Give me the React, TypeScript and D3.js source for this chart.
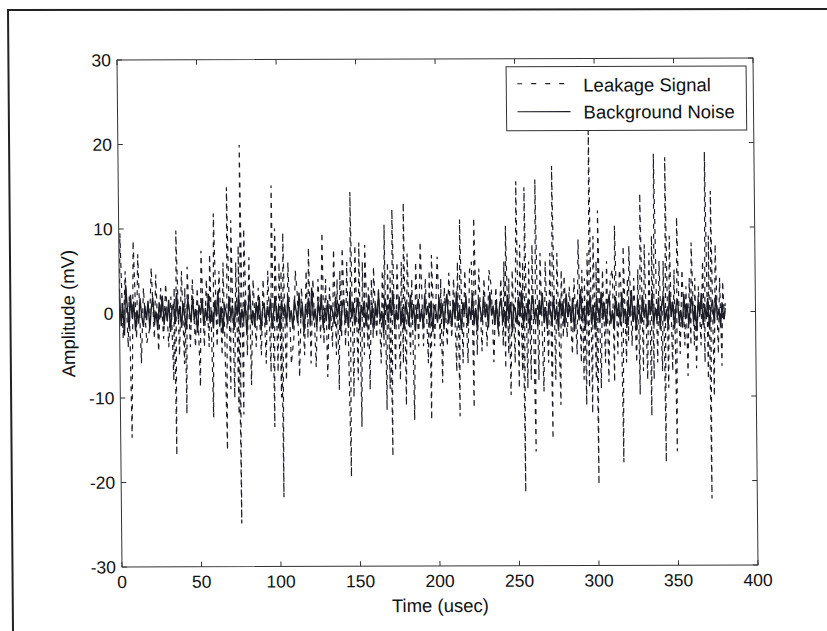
import React from "react";
import * as d3 from "d3";

const xTicks = [0, 50, 100, 150, 200, 250, 300, 350, 400];
const yTicks = [30, 20, 10, 0, -10, -20, -30];
const xLabel = "Time (usec)";
const yLabel = "Amplitude (mV)";
const legendLabels = ["Leakage Signal", "Background Noise"];

// Leakage signal: [time usec, amplitude mV]
const leakage: [number, number][] = [
  [0,0],[0.7,9.5],[2.2,-3],[3.8,5],[5.3,-4],[6.2,2],[7.2,-14.7],[9.0,8.6],[10.6,-3],[11.8,7],[13.5,-5.9],[15.2,3],[17.0,-3.5],[18.7,-2],[20.2,5.4],[21.8,-3],[23.0,4.6],[24.4,-4.5],[26.0,3],[27.6,-3],[29.2,3.5],[30.8,-4],[32.4,2],[33.8,-8],[34.5,3],[35.2,-16.8],[35.9,9.8],[37.5,-5],[39.2,5],[40.6,-6],[41.2,3],[41.8,-11.9],[42.8,5.5],[44.4,-4],[46.0,4],[47.6,-4],[49.0,3],[50.5,-8.7],[51.6,7.4],[53.2,-4],[54.8,4],[56.2,-4],[57.0,7],[58.6,-12.3],[59.6,11.8],[61.2,-4],[62.8,5],[64.3,-5],[65.4,6],[67.1,-16.2],[68.0,14.9],[69.6,-9],[70.5,11],[72.0,-10],[73.4,6],[74.6,-12],[75.0,8],[75.6,-24.9],[76.3,19.9],[77.6,-12],[78.6,10],[80.2,-5],[81.7,6.6],[82.6,-8.5],[84.2,4],[85.8,-4],[87.4,3],[89.0,-5],[90.5,4],[92.0,-6],[93.5,5],[95.0,-7],[96.1,15.1],[97.0,-13.5],[98.0,10],[99.4,-7],[100.6,6],[101.4,-10],[101.8,5],[102.3,-21.8],[103.1,9.5],[104.6,-8],[106.2,6],[107.8,-6],[109.5,-3],[110.8,5],[112.0,2],[112.9,-7.6],[114.6,3],[116.2,-5],[117.6,5],[118.4,-3],[119.2,7.7],[120.2,-6],[121.8,4],[123.4,-6.4],[125.0,4],[126.4,-3],[127.8,9.5],[128.4,-3.7],[129.8,4],[130.6,-7.6],[132.2,3],[133.8,-4],[135.0,7.5],[136.2,-5],[137.0,4],[137.8,-9.1],[138.8,5],[139.6,-3],[140.4,7.7],[142.0,-4],[143.2,6],[144.9,-19.4],[145.6,14.3],[147.0,-10],[148.4,8],[149.8,-8],[150.9,8.3],[151.8,-13.5],[153.0,6],[153.8,-5],[154.6,8],[156.0,-4],[156.6,3],[157.2,-9.1],[158.6,4],[159.4,-3],[160.0,5.4],[161.6,-3],[163.0,3],[164.3,-6],[165.5,5],[166.2,-4],[166.9,10.4],[167.7,-11.5],[168.8,6],[169.8,-9],[170.4,5],[171.1,-17],[171.9,12.2],[173.3,-7],[174.8,6],[176.3,-8],[177.5,6],[178.3,-6],[179.1,13],[179.9,-11],[181.2,7],[182.8,-5],[184.0,4],[185.0,-12.7],[186.5,6],[188.0,-4],[189.5,8.4],[191.0,-4],[192.5,4],[194.0,-6],[195.0,5],[195.7,-12.7],[196.5,6.8],[198.0,-4],[200.1,6.6],[201.6,-4],[202.2,4],[202.8,-8.3],[204.4,3],[206.0,-4],[207.3,4.7],[208.8,-3],[210.3,4],[211.8,-7],[212.8,6],[213.6,-12.3],[214.4,11],[215.8,-6],[217.4,5],[218.9,-6],[220.4,5],[221.6,6],[222.5,-11.3],[223.3,11.2],[224.8,-5],[226.2,5.2],[227.8,-4.6],[229.4,4],[231.0,-4],[232.6,5],[234.0,3],[235.2,-5.9],[236.8,3],[238.4,-3],[240.0,4],[241.2,-4],[242.0,6],[242.6,-6.7],[243.2,10.2],[244.6,-5],[245.0,4],[245.8,-9.8],[247.2,5],[248.6,-6],[250.0,15.5],[251.0,-9],[252.0,8],[253.2,-7],[253.8,6],[254.4,-21.3],[255.1,14.8],[256.4,-9],[257.6,6],[258.6,-8],[259.8,8],[261.2,-16.5],[262.0,15.7],[263.4,-8],[264.8,7],[266.5,-9.4],[268.0,6],[269.6,-6],[271.0,7],[271.9,-15],[272.6,17.3],[274.0,-8],[275.4,7],[277.1,-11],[278.0,5],[279.0,-3],[279.8,4.3],[281.4,-3],[283.0,3],[284.6,-5],[286.0,4],[287.6,-5],[288.8,8.6],[290.2,-6],[291.0,5],[291.8,-8],[292.6,4],[293.3,-11],[294.4,7],[295.2,-9],[295.9,22],[297.0,-12],[298.2,9],[299.5,-8],[300.0,6],[300.5,-20.4],[301.2,12],[302.6,-9],[304.0,5],[305.4,-6],[306.6,6],[307.4,-8.3],[308.8,4],[310.2,5],[311.0,-8.3],[311.8,10.2],[313.2,-5],[314.6,5],[315.4,4],[316.3,-17.8],[317.1,7.8],[318.6,-6],[319.6,4],[320.0,-3.4],[320.7,7.8],[322.2,-4],[323.6,4],[325.0,-6],[326.2,5],[327.0,-9.8],[327.9,14],[329.2,-7],[330.4,8],[331.8,-8],[333.3,7],[334.2,-12.3],[335.0,9],[335.9,-8],[336.7,18.7],[338.2,-6],[339.6,6],[341.2,-7],[342.2,6],[343.0,-17.8],[343.8,18.3],[345.0,-9],[346.2,9],[347.6,-7],[349.0,5],[350.0,-16.5],[350.9,11.2],[352.4,-5],[354.0,5],[355.4,-4],[356.4,3],[357.2,-7.6],[358.5,4],[359.2,-4],[359.9,8.2],[361.4,-4],[362.0,4],[362.6,-6.7],[364.2,3],[365.6,-4],[367.0,6],[368.0,-6],[368.8,18.9],[370.0,-8],[370.8,9],[371.5,-22.1],[372.3,14.3],[373.6,-10],[375.0,8],[376.4,-5],[377.6,4],[378.6,-6.4],[379.5,3.6],[380.4,-1],[381.0,1]
];

// Background noise, one sample per microsecond starting at 0 usec
const noiseStep = 1;
const noise: number[] = [
  2.8,-1.5,1.2,-2.6,3.4,0.5,-1.8,2.2,-0.6,1.4,-2.1,0.3,-1.2,1.8,-0.4,-1.6,0.9,-0.8,1.5,-1.9,
  0.6,1.9,-1.1,0.2,-2.0,1.3,-0.5,2.1,-1.4,0.7,-0.9,1.6,-2.2,0.4,1.1,-1.3,2.4,-0.7,0.9,-1.7,
  1.2,-0.3,-1.9,1.7,0.2,-1.1,2.0,-0.8,0.5,-2.3,1.0,-0.2,1.8,-1.5,0.6,-0.9,2.3,-1.2,0.3,-1.8,
  1.5,-0.4,2.6,-1.6,0.8,-2.4,1.1,0.1,-1.3,1.9,-0.6,0.9,-2.0,1.4,-0.3,2.2,-1.7,0.5,-1.0,1.6,
  -2.5,0.7,2.8,-1.2,0.3,-1.6,1.3,-0.7,1.9,-2.1,0.4,1.2,-1.4,0.8,-0.5,1.7,-1.9,0.2,2.0,-1.1,
  0.6,-2.2,1.5,-0.3,0.9,-1.5,2.1,-0.8,0.3,-1.9,1.6,0.4,-1.2,2.4,-0.6,1.0,-2.3,0.8,-0.2,1.8,
  -1.4,3.0,-0.9,0.5,-1.7,1.3,-0.4,2.2,-1.8,0.6,-1.0,1.5,-2.0,0.9,0.2,-1.3,1.9,-0.5,1.1,-2.2,
  0.7,1.6,-1.1,0.3,-1.8,2.5,-0.7,1.2,-1.5,0.4,1.8,-2.1,0.9,-0.3,1.4,-1.6,0.5,2.0,-1.3,0.8,
  -1.9,1.1,-0.6,2.3,-1.0,0.2,-2.4,1.7,0.6,-1.2,1.5,-0.4,2.6,-1.7,0.3,-0.9,1.9,-1.4,0.7,-2.0,
  1.3,0.1,-1.6,2.1,-0.8,1.0,-2.2,0.5,1.6,-1.1,0.4,-1.8,2.0,-0.3,0.8,-1.5,1.4,-2.3,0.9,0.2,
  -1.2,1.8,-0.5,1.1,-2.0,0.6,2.2,-1.3,0.3,-1.7,1.5,-0.8,2.5,-1.0,0.4,-2.1,1.2,-0.2,1.9,-1.6,
  0.7,-0.9,2.3,-1.4,0.5,-2.2,1.6,0.2,-1.1,1.9,-0.6,1.0,-1.8,2.4,-0.4,0.8,-1.5,1.3,-2.0,0.6,
  1.7,-1.2,0.3,-1.9,2.1,-0.7,1.2,-2.4,0.9,0.1,-1.4,1.8,-0.5,2.6,-1.6,0.4,-1.0,1.5,-2.1,0.8,
  2.0,-0.9,0.5,-1.7,1.4,-0.3,2.3,-1.3,0.6,-2.0,1.1,0.2,-1.5,1.9,-0.8,0.7,-2.2,1.6,-0.4,1.0,
  -1.8,2.2,-0.6,0.9,-1.3,1.7,-2.3,0.4,1.3,-1.0,2.7,-0.7,0.5,-1.9,1.2,-0.2,2.0,-1.5,0.8,-2.1,
  1.5,0.3,-1.2,2.4,-0.9,1.1,-1.7,0.6,2.1,-1.4,0.2,-2.0,1.8,-0.5,1.0,-1.6,2.3,-0.8,0.4,-1.9,
  1.3,-0.6,2.6,-1.2,0.7,-2.2,1.6,0.1,-1.4,2.0,-0.7,0.9,-1.8,1.4,-0.3,2.2,-1.5,0.5,-1.0,1.7,
  -2.1,0.8,1.9,-1.1,0.3,-1.7,2.5,-0.6,1.2,-2.0,0.6,1.5,-1.3,0.2,-1.9,2.1,-0.8,1.0,-1.5,0.4,
  1.8,-1.2,0.7,-2.3,1.4,-0.4,2.2,-1.6,0.9,-0.9,1.6,-2.0,0.5,1.3,-1.4,2.0,-0.7,0.3,-1.8,1.1,
  -0.9,0.4
];

const W = 827;
const H = 631;
const PW = 636;
const PH = 507;
const INK = "#1c1c26";
const FONT = "'Liberation Sans', Arial, Helvetica, sans-serif";

export default function App() {
  const x = d3.scaleLinear().domain([0, 400]).range([0, PW]);
  const y = d3.scaleLinear().domain([-30, 30]).range([PH, 0]);
  const line = d3
    .line<[number, number]>()
    .x((d) => x(d[0]))
    .y((d) => y(d[1]));
  const noisePts: [number, number][] = noise.map((v, i) => [i * noiseStep, v]);
  const tickLen = 5;

  return (
    <svg
      width={W}
      height={H}
      style={{ position: "fixed", left: 0, top: 0, background: "#fff" }}
      fontFamily={FONT}
    >
      <rect width={W} height={H} fill="#fff" />
      {/* scanned page border */}
      <path d="M13,631 L8,10 L827,9" fill="none" stroke="#222" strokeWidth={2} />
      <g transform="matrix(1,-0.00314,0.00986,1,117,60)">
        <defs>
          <clipPath id="plotClip">
            <rect x={0} y={0} width={PW} height={PH} />
          </clipPath>
        </defs>
        <g clipPath="url(#plotClip)">
          <path
            d={line(leakage) || ""}
            fill="none"
            stroke={INK}
            strokeWidth={1.2}
            strokeDasharray="5,5"
          />
          <path d={line(noisePts) || ""} fill="none" stroke={INK} strokeWidth={1.4} />
        </g>
        <rect x={0} y={0} width={PW} height={PH} fill="none" stroke="#333" strokeWidth={1} />
        {xTicks.map((t) => (
          <g key={"x" + t}>
            <line x1={x(t)} x2={x(t)} y1={PH} y2={PH - tickLen} stroke="#333" />
            <line x1={x(t)} x2={x(t)} y1={0} y2={tickLen} stroke="#333" />
            <text x={x(t)} y={PH + 21} textAnchor="middle" fontSize={17.5} fill="#111">
              {t}
            </text>
          </g>
        ))}
        {yTicks.map((t) => (
          <g key={"y" + t}>
            <line x1={0} x2={tickLen} y1={y(t)} y2={y(t)} stroke="#333" />
            <line x1={PW} x2={PW - tickLen} y1={y(t)} y2={y(t)} stroke="#333" />
            <text x={-6} y={y(t)} dy="0.36em" textAnchor="end" fontSize={17.5} fill="#111">
              {t}
            </text>
          </g>
        ))}
        <text x={PW / 2} y={PH + 46} textAnchor="middle" fontSize={18.5} fill="#111">
          {xLabel}
        </text>
        <text
          transform={`translate(-45,${PH / 2}) rotate(-90)`}
          textAnchor="middle"
          fontSize={18.5}
          fill="#111"
        >
          {yLabel}
        </text>
        {/* legend */}
        <g>
          <rect x={389} y={8} width={240} height={64} fill="#fff" stroke="#333" strokeWidth={1} />
          <line x1={400} x2={453} y1={25} y2={25} stroke={INK} strokeWidth={1.2} strokeDasharray="5,9" />
          <line x1={400} x2={453} y1={53} y2={53} stroke={INK} strokeWidth={1.2} />
          <text x={466} y={33} fontSize={18.5} fill="#111">
            {legendLabels[0]}
          </text>
          <text x={466} y={60} fontSize={18.5} fill="#111">
            {legendLabels[1]}
          </text>
        </g>
      </g>
    </svg>
  );
}
